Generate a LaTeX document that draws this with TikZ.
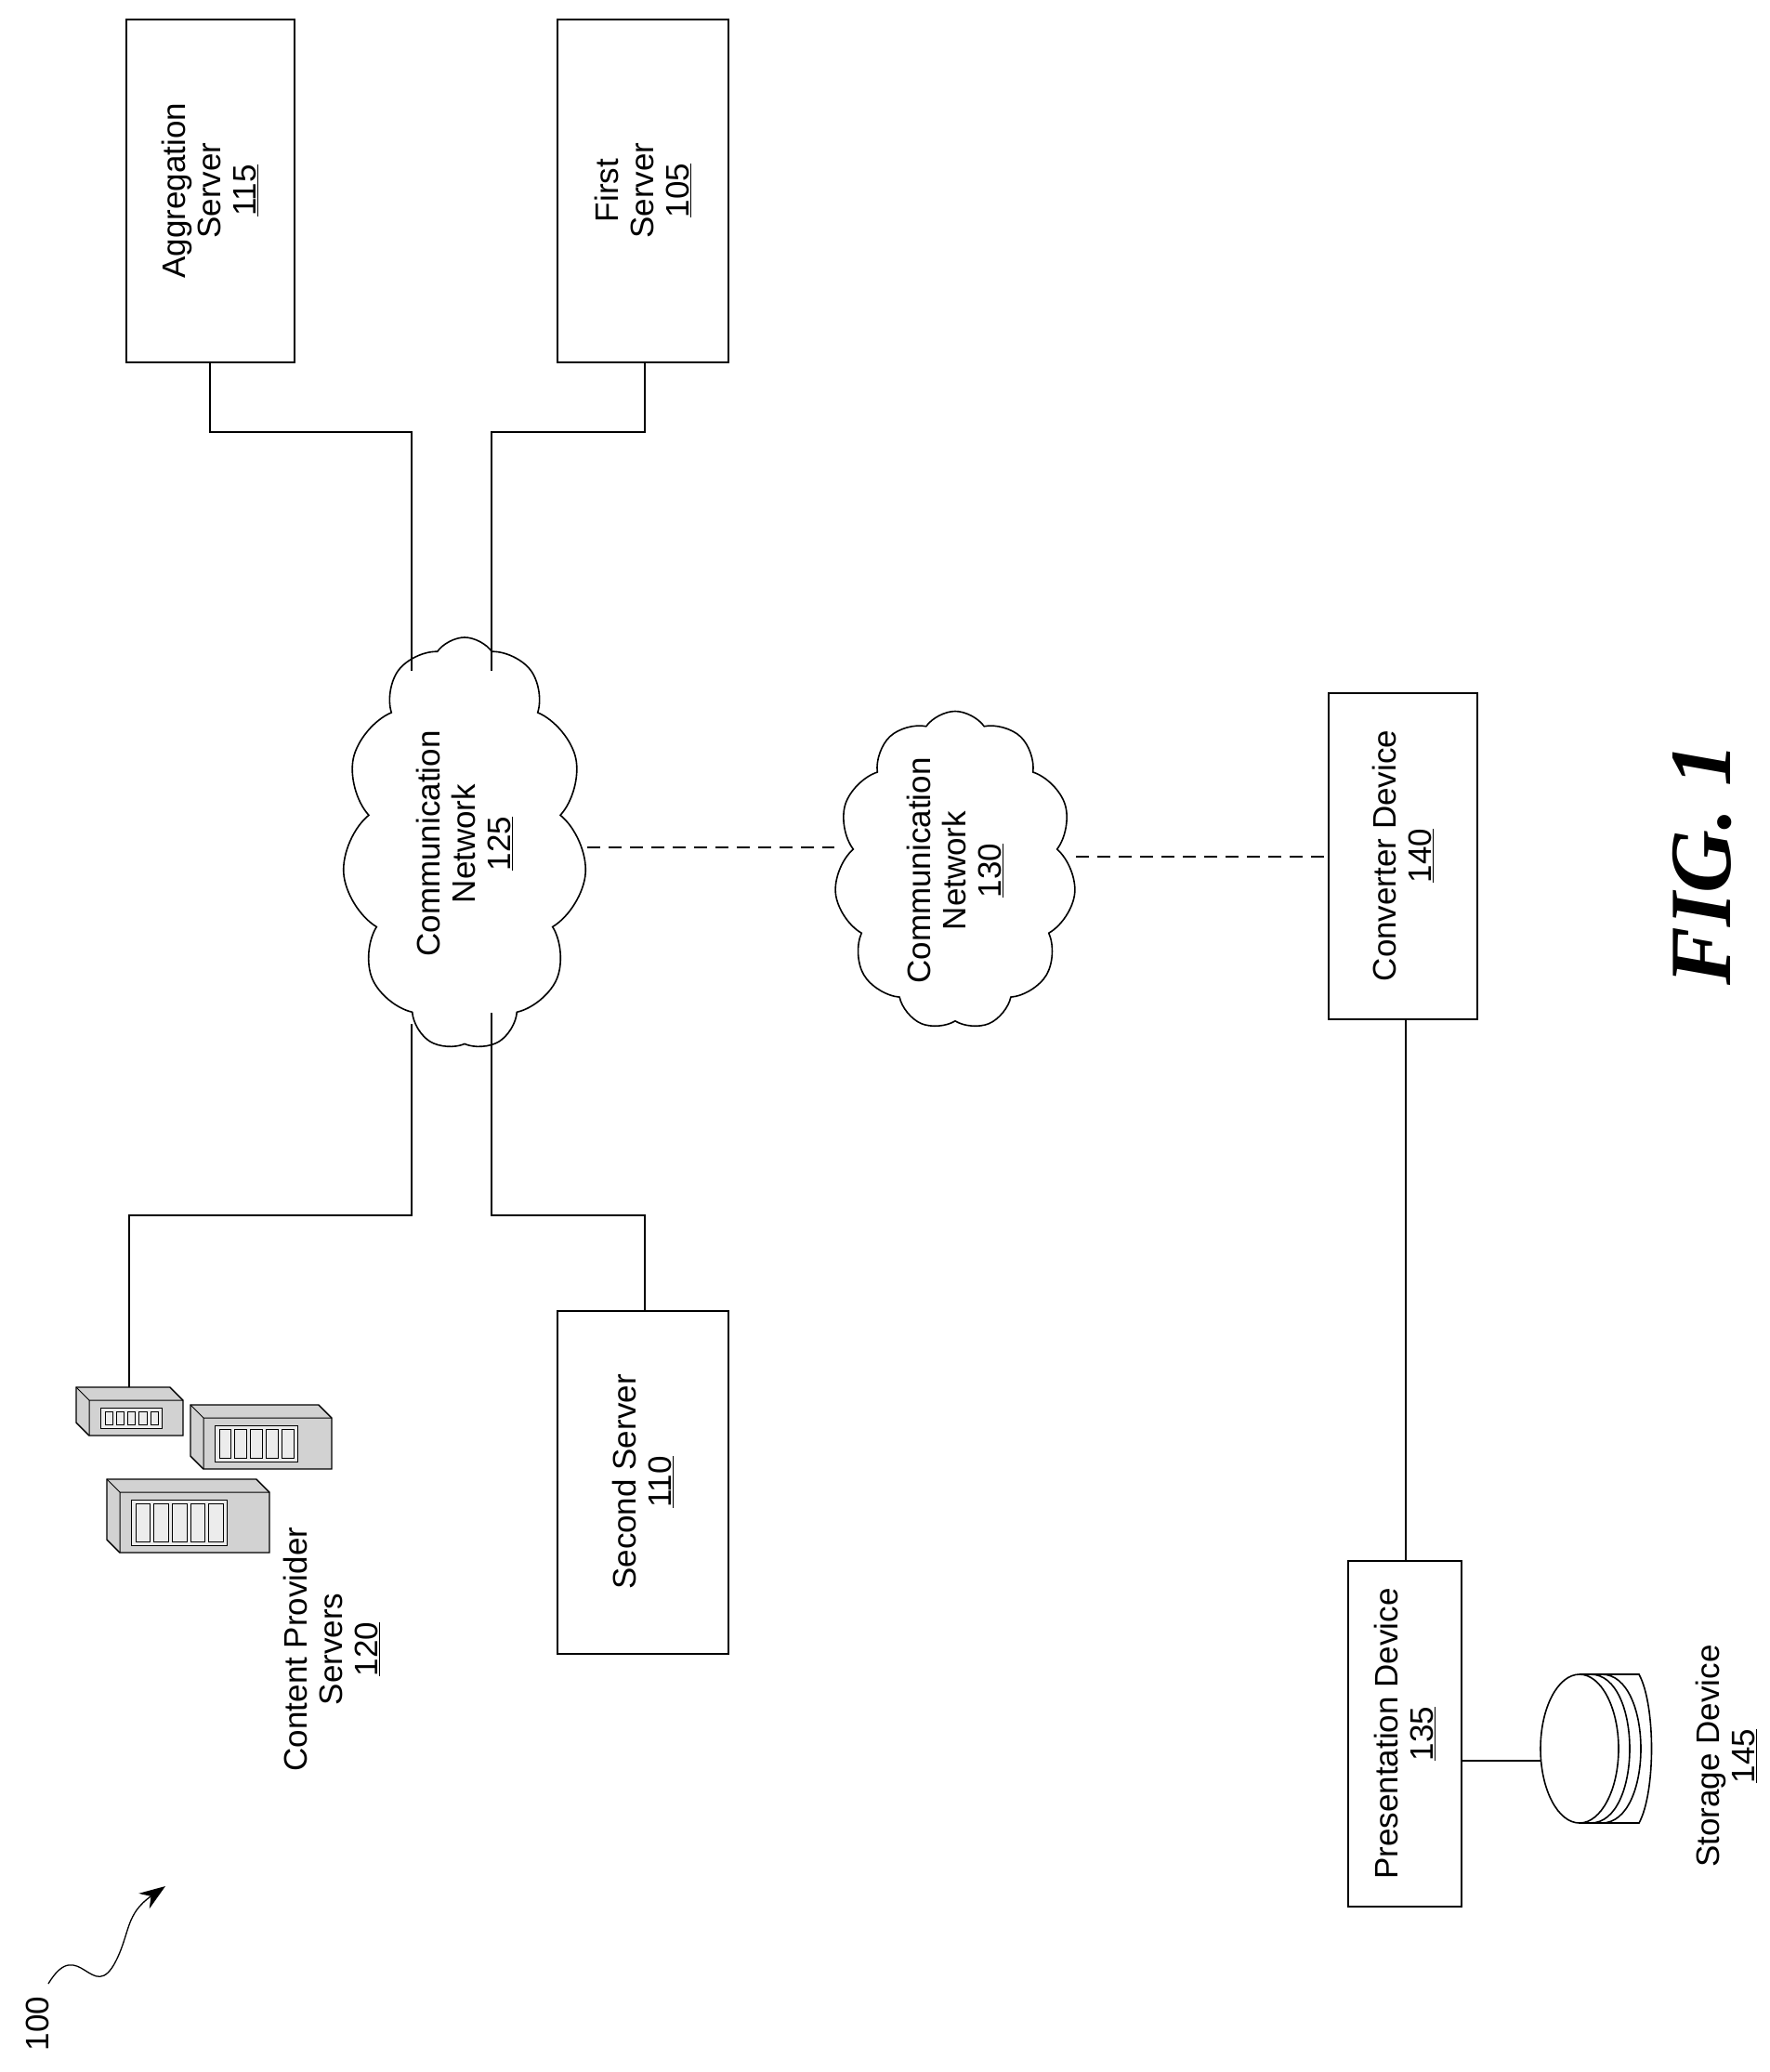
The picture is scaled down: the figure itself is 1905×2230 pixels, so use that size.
\documentclass[tikz,border=0pt]{standalone}
\usepackage{fontspec}
\setmainfont{Liberation Sans}
\newfontfamily\figfont{Liberation Serif}
\usetikzlibrary{shapes.symbols,arrows.meta}
\begin{document}
\begin{tikzpicture}[x=1pt,y=-1pt,line width=1.6pt,
  box/.style={draw,rectangle},
  lbl/.style={rotate=90,align=center,font=\fontsize{35}{38}\selectfont},
  net/.style={draw,cloud,cloud puffs=11,cloud puff arc=110,aspect=0.59},
  srv/.style={fill=gray!35,draw,line width=1.4pt}]
\useasboundingbox (0,0) rectangle (1905,2230);
% boxes
\draw[box] (136,21) rectangle (317,390);
\node[lbl] (agg) at (226,205) {Aggregation\\Server\\\underline{115}};
\draw[box] (600,21) rectangle (784,390);
\node[lbl] (first) at (692,205) {First\\Server\\\underline{105}};
\draw[box] (600,1411) rectangle (784,1780);
\node[lbl] (second) at (692,1595) {Second Server\\\underline{110}};
\draw[box] (1430,746) rectangle (1590,1097);
\node[lbl] (conv) at (1510,921) {Converter Device\\\underline{140}};
\draw[box] (1451,1680) rectangle (1573,2052);
\node[lbl] (pres) at (1512,1866) {Presentation Device\\\underline{135}};
% clouds
\node[net,minimum width=263pt,minimum height=444pt] (n125) at (500,908) {};
\node[lbl] at (500,908) {Communication\\Network\\\underline{125}};
\node[net,minimum width=260pt,minimum height=343pt] (n130) at (1028,937) {};
\node[lbl] at (1028,937) {Communication\\Network\\\underline{130}};
% connectors
\draw (226,390) -- (226,465) -- (443,465) -- (443,722);
\draw (694,390) -- (694,465) -- (529,465) -- (529,722);
\draw (443,1102) -- (443,1308) -- (139,1308) -- (139,1494);
\draw (529,1090) -- (529,1308) -- (694,1308) -- (694,1411);
\draw[dashed,dash pattern=on 14pt off 9pt] (632,912) -- (898,912);
\draw[dashed,dash pattern=on 14pt off 9pt] (1158,922) -- (1430,922);
\draw (1513,1097) -- (1513,1680);
\draw (1573,1895) -- (1658,1895);
% storage cylinder
\draw (1700,1802) -- (1764,1802) .. controls (1782,1835) and (1782,1929) .. (1764,1962) -- (1700,1962);
\draw[fill=white] (1700,1882) ellipse[x radius=42,y radius=80];
\draw (1712,1802) .. controls (1768,1802) and (1768,1962) .. (1712,1962);
\draw (1724,1802) .. controls (1780,1802) and (1780,1962) .. (1724,1962);
\node[lbl] (stor) at (1858,1890) {Storage Device\\\underline{145}};
% servers
\foreach \a/\b/\c/\d in {82/1493/197/1545, 205/1512/357/1581, 115/1592/290/1671}{
  \pgfmathsetmacro{\w}{(0.62*\c-0.62*\a-10)/5}
  \draw[srv] (\a,\b) -- (\c-14,\b) -- (\c,\b+14) -- (\c,\d) -- (\a+14,\d) -- (\a,\d-14) -- cycle;
  \draw[line width=1pt] (\a+14,\b+14) -- (\c,\b+14) (\a+14,\b+14) -- (\a+14,\d) (\a,\b) -- (\a+14,\b+14);
  \draw[line width=1pt,fill=gray!15] (\a+26,\b+22) rectangle (\a+31+5*\w,\d-8);
  \foreach \k in {0,1,2,3,4}{\draw[line width=0.8pt] (\a+31+\k*\w,\b+26) rectangle (\a+27+\k*\w+\w,\d-12);}
}
\node[lbl] (cps) at (357,1775) {Content Provider\\Servers\\\underline{120}};
% labels
\node[rotate=90,font=\figfont\fontsize{94}{100}\selectfont\bfseries\itshape] (fig) at (1832,930) {FIG. 1};
\node[rotate=90,font=\fontsize{35}{38}\selectfont] (ref) at (40,2178) {100};
\coordinate (s0) at (52,2135);
\draw[-{Stealth[length=28pt,width=20pt]},line width=1.3pt] (s0) .. controls (85,2080) and (100,2160) .. (125,2110) .. controls (140,2080) and (135,2060) .. (178,2030);
\end{tikzpicture}
\end{document}
